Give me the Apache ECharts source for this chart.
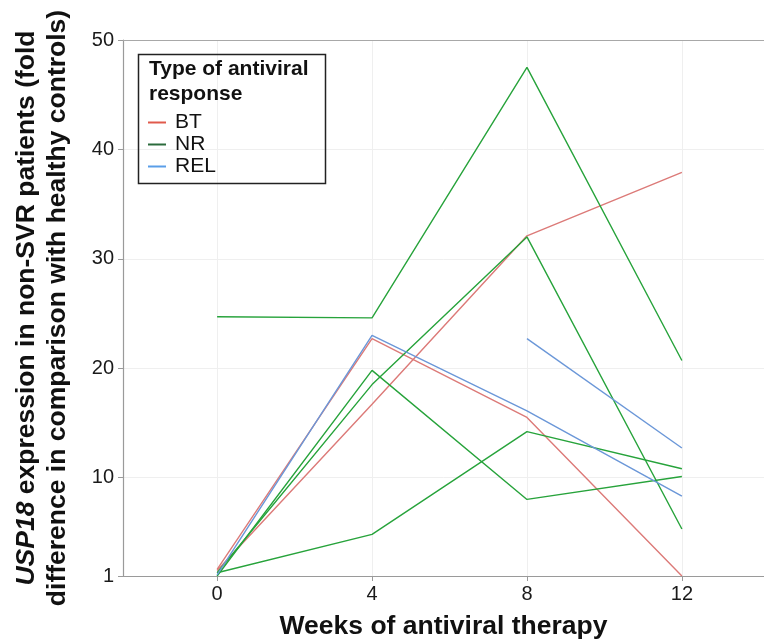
<!DOCTYPE html>
<html>
<head>
<meta charset="utf-8">
<script src="https://cdn.jsdelivr.net/npm/echarts@6/dist/echarts.min.js"></script>
<style>html,body{margin:0;padding:0;background:#fff}#c{width:764px;height:641px}</style>
</head>
<body>
<div id="c"></div>
<script>
const weeks = [0, 4, 8, 12];
const xTicks = [0, 4, 8, 12];
const yTicks = [1, 10, 20, 30, 40, 50];
const groups = ['BT', 'NR', 'REL'];

// BT patients
const bt1 = [1.6, 22.7, 15.5, 1.0];
const bt2 = [1.5, 16.7, 32.1, 37.9];
// NR patients
const nr1 = [24.7, 24.6, 47.5, 20.7];
const nr2 = [1.3, 18.5, 32.0, 5.3];
const nr3 = [1.0, 19.8, 8.0, 10.1];
const nr4 = [1.3, 4.8, 14.2, 10.8];
// REL patients
const rel1 = [1.1, 23.0, 16.1, 8.3];
const rel2 = [null, null, 22.7, 12.7];

const patients = [
  {group: 'BT', values: bt1},
  {group: 'BT', values: bt2},
  {group: 'NR', values: nr1},
  {group: 'NR', values: nr2},
  {group: 'NR', values: nr3},
  {group: 'NR', values: nr4},
  {group: 'REL', values: rel1},
  {group: 'REL', values: rel2}
];

const lineColors = {BT: '#dc7a78', NR: '#27a33b', REL: '#6b97d8'};
const legendColors = {BT: '#e05a4c', NR: '#2b6b3c', REL: '#5a9ee8'};

const series = patients.map(p => ({
  type: 'line',
  name: p.group,
  data: weeks.map((w, i) => [w, p.values[i]]),
  showSymbol: false,
  symbol: 'none',
  lineStyle: {color: lineColors[p.group], width: 1.4},
  itemStyle: {color: lineColors[p.group]},
  connectNulls: false,
  silent: true,
  animation: false
}));

const chart = echarts.init(document.getElementById('c'));
const font = 'Liberation Sans, Arial, sans-serif';
chart.setOption({
  animation: false,
  textStyle: {fontFamily: font},
  grid: {left: 123, top: 40, right: 0, bottom: 65, containLabel: false, outerBoundsMode: 'none'},
  title: {
    text: 'Type of antiviral\nresponse',
    left: 149, top: 57, padding: 0,
    textStyle: {fontFamily: font, fontSize: 21, fontWeight: 'bold', color: '#111', lineHeight: 25}
  },
  legend: {
    data: groups.map(g => ({name: g, itemStyle: {color: legendColors[g]}, lineStyle: {color: legendColors[g]}})),
    orient: 'vertical',
    left: 148, top: 112, padding: 0,
    icon: 'rect',
    itemWidth: 18, itemHeight: 2,
    itemGap: 1,
    selectedMode: false,
    textStyle: {fontFamily: font, fontSize: 21, color: '#111', lineHeight: 21, padding: [0, 0, 0, 4]}
  },
  graphic: [{
    type: 'rect', left: 136, top: 52,
    shape: {width: 187, height: 129},
    style: {fill: 'none', stroke: '#222', lineWidth: 1.5},
    z: 100
  }],
  xAxis: [{
    type: 'value', min: -2.43, max: 14.12,
    name: 'Weeks of antiviral therapy',
    nameLocation: 'middle', nameGap: 37,
    nameTextStyle: {fontFamily: font, fontSize: 26.5, fontWeight: 'bold', color: '#111'},
    axisLine: {show: true, onZero: false, lineStyle: {color: '#9a9a9a', width: 1.2}},
    axisTick: {show: true, customValues: xTicks, length: 5, lineStyle: {color: '#9a9a9a'}},
    axisLabel: {customValues: xTicks, fontSize: 20, color: '#1a1a1a', margin: 8, fontFamily: font},
    splitLine: {show: true, lineStyle: {color: '#efefef', width: 1}}
  }, {
    type: 'value', min: -2.43, max: 14.12, position: 'top',
    axisLine: {show: true, onZero: false, lineStyle: {color: '#a8a8a8', width: 1.2}},
    axisTick: {show: false}, axisLabel: {show: false}, splitLine: {show: false}
  }],
  yAxis: {
    type: 'value', min: 1, max: 50,
    name: '{i|USP18}{b| expression in non-SVR patients (fold}\n{b|difference in comparison with healthy controls)}',
    nameLocation: 'middle', nameGap: 50, nameRotate: 90,
    nameTextStyle: {
      fontFamily: font, fontSize: 26.5, fontWeight: 'bold', color: '#111', lineHeight: 31,
      rich: {
        i: {fontFamily: font, fontSize: 26.5, fontWeight: 'bold', fontStyle: 'italic', color: '#111', lineHeight: 31},
        b: {fontFamily: font, fontSize: 26.5, fontWeight: 'bold', color: '#111', lineHeight: 31}
      }
    },
    axisLine: {show: true, onZero: false, lineStyle: {color: '#9a9a9a', width: 1.2}},
    axisTick: {show: true, customValues: yTicks, length: 5, lineStyle: {color: '#9a9a9a'}},
    axisLabel: {customValues: yTicks, fontSize: 20, color: '#1a1a1a', margin: 9, fontFamily: font},
    splitLine: {show: true, lineStyle: {color: '#efefef', width: 1}}
  },
  series: series
});
</script>
</body>
</html>
